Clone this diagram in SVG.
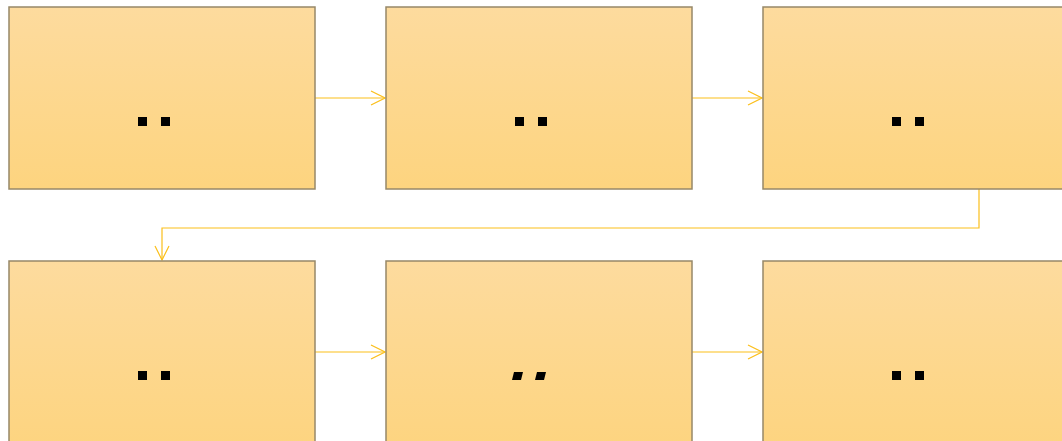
<svg xmlns="http://www.w3.org/2000/svg" width="1062" height="441" viewBox="0 0 1062 441">
<defs>
<linearGradient id="g" x1="0" y1="0" x2="0" y2="1">
<stop offset="0" stop-color="#fddb9e"/>
<stop offset="1" stop-color="#fdd47f"/>
</linearGradient>
<marker id="arr" viewBox="0 0 16 16" refX="15" refY="8" markerWidth="16" markerHeight="16" markerUnits="userSpaceOnUse" orient="auto">
<path d="M1,1 L15,8 L1,15" fill="none" stroke="#fbbf1b" stroke-width="1.2"/>
</marker>
</defs>
<style>
.box{fill:url(#g);stroke:#978868;stroke-width:1.5}
.sh{fill:none;stroke:#c9bfa6;stroke-width:1}
.mk{fill:#000}
.c{fill:none;stroke:#fbbf1b;stroke-width:1.2;marker-end:url(#arr)}
</style>
<rect width="1062" height="441" fill="#fff"/>
<g id="connectors">
<path class="c" d="M315,98 H385"/>
<path class="c" d="M692,98 H762"/>
<path class="c" d="M979,189 V228 H162 V260"/>
<path class="c" d="M315,352 H385"/>
<path class="c" d="M692,352 H762"/>
</g>
<g id="n1">
<rect class="box" x="9" y="7" width="306" height="182"/>
<rect class="mk" x="138" y="117" width="9" height="9"/><rect class="mk" x="161" y="117" width="9" height="9"/>
</g>
<g id="n2">
<rect class="box" x="386" y="7" width="306" height="182"/>
<rect class="mk" x="515" y="117" width="9" height="9"/><rect class="mk" x="538" y="117" width="9" height="9"/>
</g>
<g id="n3">
<rect class="box" x="763" y="7" width="310" height="182"/>
<rect class="mk" x="892" y="117" width="9" height="9"/><rect class="mk" x="915" y="117" width="9" height="9"/>
</g>
<g id="n4">
<rect class="box" x="9" y="261" width="306" height="190"/>
<rect class="mk" x="138" y="371" width="9" height="9"/><rect class="mk" x="161" y="371" width="9" height="9"/>
</g>
<g id="n5">
<rect class="box" x="386" y="261" width="306" height="190"/>
<polygon class="mk" points="514,372 523,372 521,380 512,380"/><polygon class="mk" points="537,372 546,372 544,380 535,380"/>
</g>
<g id="n6">
<rect class="box" x="763" y="261" width="310" height="190"/>
<rect class="mk" x="892" y="371" width="9" height="9"/><rect class="mk" x="915" y="371" width="9" height="9"/>
</g>
</svg>
